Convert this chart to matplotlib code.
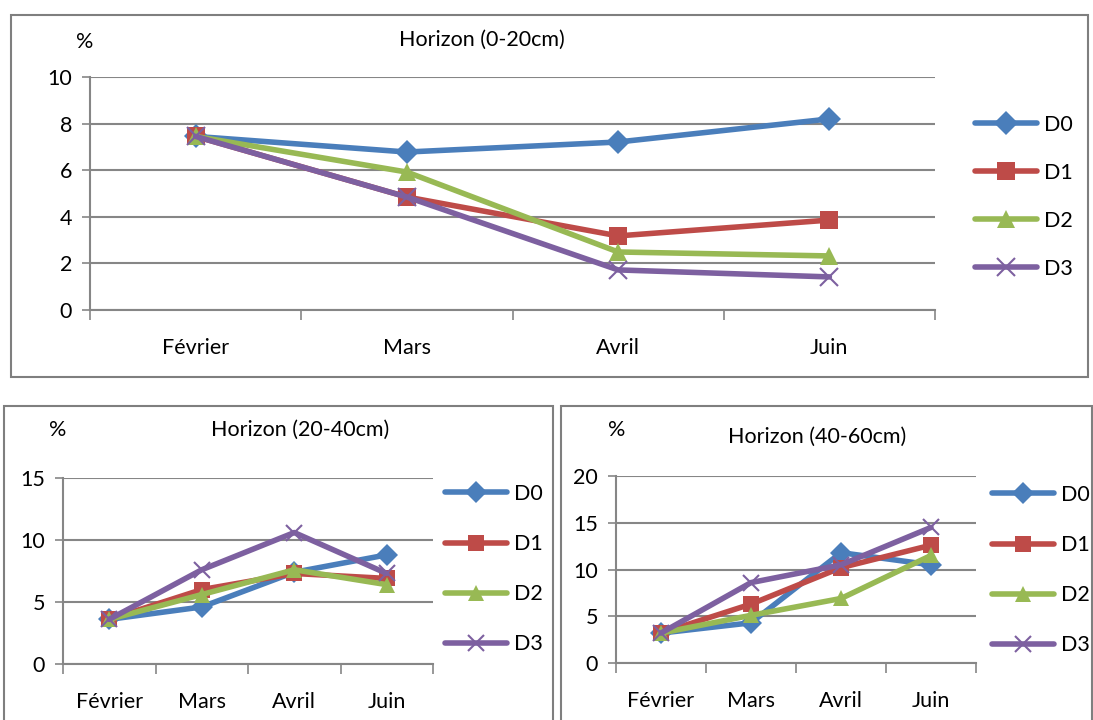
import matplotlib
matplotlib.use("Agg")
import matplotlib.pyplot as plt
from matplotlib.patches import Rectangle

plt.rcParams['font.family'] = ['Lato', 'DejaVu Sans']

months = ['Février', 'Mars', 'Avril', 'Juin']
series = ['D0', 'D1', 'D2', 'D3']

# Horizon (0-20cm)
h1_d0 = [7.45, 6.78, 7.21, 8.2]
h1_d1 = [7.45, 4.85, 3.18, 3.86]
h1_d2 = [7.45, 5.92, 2.49, 2.32]
h1_d3 = [7.45, 4.85, 1.72, 1.42]

# Horizon (20-40cm)
h2_d0 = [3.6, 4.6, 7.4, 8.8]
h2_d1 = [3.6, 6.0, 7.3, 6.9]
h2_d2 = [3.6, 5.6, 7.6, 6.4]
h2_d3 = [3.6, 7.6, 10.6, 7.3]

# Horizon (40-60cm)
h3_d0 = [3.2, 4.3, 11.8, 10.5]
h3_d1 = [3.2, 6.3, 10.2, 12.6]
h3_d2 = [3.2, 5.1, 6.9, 11.5]
h3_d3 = [3.2, 8.6, 10.5, 14.5]

colors = ['#4A7EBB', '#BE4B48', '#98B954', '#7D60A0']
markers = ['D', 's', '^', 'x']
grid_c = '#868686'
FS = 15.5

W, H = 1093, 720
fig = plt.figure(figsize=(W / 100, H / 100), dpi=100)


def fx(px):
    return px / W


def fy(py):
    return 1 - py / H


def box(x0, y0, x1, y1):
    fig.patches.append(Rectangle((fx(x0), fy(y1)), fx(x1) - fx(x0), fy(y0) - fy(y1),
                                 transform=fig.transFigure, fill=False,
                                 edgecolor='#7f7f7f', lw=1.5))


def panel(rect, data, ymax, ystep, title, tx, ty, px, py, leg_anchor, leg_space, ms, xpad):
    ax = fig.add_axes(rect)
    xs = [i + 0.5 for i in range(len(months))]
    for vals, c, m, name in zip(data, colors, markers, series):
        mew = 1.5 if m == 'x' else 0
        ax.plot(xs, vals, color=c, lw=4, marker=m, ms=ms if m != 'D' else ms * 0.95,
                mew=mew, mec=c, mfc=c, label=name, solid_capstyle='round')
    ax.set_xlim(0, len(months))
    ax.set_ylim(0, ymax)
    ax.set_yticks(range(0, ymax + 1, ystep))
    ax.set_xticks(range(len(months) + 1))
    ax.set_xticklabels([])
    ax.set_xticks(xs, minor=True)
    ax.set_xticklabels(months, minor=True, fontsize=FS)
    ax.tick_params(axis='x', which='minor', length=0, pad=xpad)
    ax.tick_params(axis='x', which='major', length=7, color=grid_c, width=1.2)
    ax.tick_params(axis='y', length=6, color=grid_c, width=1.2, labelsize=FS, pad=7)
    ax.yaxis.grid(True, color=grid_c, lw=1.5)
    ax.set_axisbelow(True)
    for s in ['top', 'right']:
        ax.spines[s].set_visible(False)
    for s in ['left', 'bottom']:
        ax.spines[s].set_color(grid_c)
        ax.spines[s].set_linewidth(1.5)
    fig.text(fx(tx), fy(ty), title, fontsize=FS, ha='center', va='center')
    fig.text(fx(px), fy(py), '%', fontsize=FS, ha='center', va='center')
    fig.legend(*ax.get_legend_handles_labels(), loc='upper left',
               bbox_to_anchor=(fx(leg_anchor[0]), fy(leg_anchor[1])),
               frameon=False, fontsize=FS, handlelength=2.9, handletextpad=0.3,
               labelspacing=leg_space, borderaxespad=0, borderpad=0)
    return ax


box(11, 15, 1088, 377)
box(4, 406, 553, 730)
box(561, 406, 1092, 730)

panel([fx(90), fy(310), fx(935) - fx(90), fy(77) - fy(310)],
      [h1_d0, h1_d1, h1_d2, h1_d3], 10, 2, 'Horizon (0-20cm)', 482, 40, 85, 42,
      (975, 115), 1.3, 13, 20)

panel([fx(63), fy(664), fx(433) - fx(63), fy(478) - fy(664)],
      [h2_d0, h2_d1, h2_d2, h2_d3], 15, 5, 'Horizon (20-40cm)', 300, 430, 58, 430,
      (445, 484), 1.4, 12, 20)

panel([fx(616), fy(663), fx(976) - fx(616), fy(476) - fy(663)],
      [h3_d0, h3_d1, h3_d2, h3_d3], 20, 5, 'Horizon (40-60cm)', 817, 437, 617, 430,
      (992, 485), 1.4, 12, 20)

fig.savefig('out.png', dpi=100)
